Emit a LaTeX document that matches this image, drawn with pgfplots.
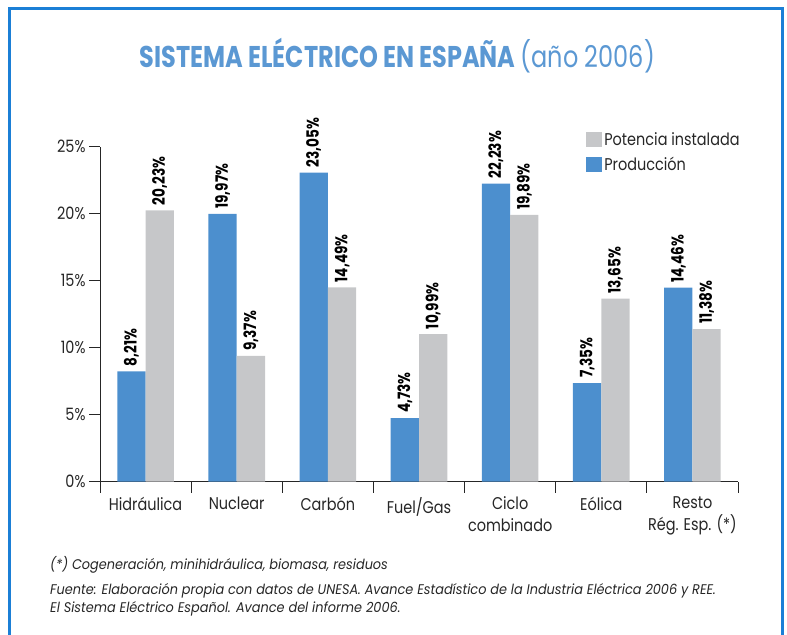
\documentclass[border=0pt]{standalone}
\usepackage{fontspec}
\usepackage{pgfplots}
\pgfplotsset{compat=1.18}
\setmainfont{Poppins}[FakeStretch=0.85]
\newfontfamily\titlefont{Poppins}[FakeStretch=0.8]
\newfontfamily\valfont{Poppins}[FakeStretch=0.8]
\newfontfamily\notefont{Poppins}[FakeStretch=0.92]
\definecolor{framecol}{HTML}{1B7FD6}
\definecolor{barblue}{HTML}{4C8FCE}
\definecolor{bargray}{HTML}{C6C7C9}
\definecolor{titleblue}{HTML}{5B98D3}
\definecolor{textcol}{HTML}{262626}

\begin{document}
\begin{tikzpicture}
\useasboundingbox (0,0) rectangle (787bp,-635bp);
\draw[line width=3bp,framecol] (9.5bp,-640bp) -- (9.5bp,-8bp) -- (782bp,-8bp) -- (782bp,-640bp);
\node[anchor=base,text=titleblue,inner sep=0pt] at (397.5bp,-67bp)
  {\fontsize{30bp}{34bp}\titlefont\bfseries SISTEMA ELÉCTRICO EN ESPAÑA \mdseries (año 2006)};

\begin{axis}[
  at={(100bp,-481.5bp)},anchor=south west,
  scale only axis,width=638bp,height=335bp,
  ybar=0pt,bar width=28.3bp,
  xmin=-0.5,xmax=6.5,ymin=0,ymax=25,
  axis x line*=bottom,axis y line*=left,
  axis line style={textcol,line width=0.9bp},
  every tick/.style={textcol,line width=0.9bp},
  xtick={0,...,6},
  xticklabels={Hidráulica,Nuclear,Carbón,Fuel/Gas,Ciclo\\combinado,Eólica,Resto\\Rég. Esp. (*)},
  minor xtick={-0.5,0.5,...,6.5},
  ytick={0,5,...,25},
  tick align=outside,major tick length=11bp,minor tick length=11bp,
  major x tick style={draw=none},
  /pgf/number format/assume math mode=true,
  yticklabel={\pgfmathprintnumber{\tick}\%},
  ticklabel style={font=\fontsize{17bp}{22bp}\selectfont,text=textcol},
  xticklabel style={align=center,yshift=-1bp},
  clip=false,
  nodes near coords={\pgfmathprintnumber[fixed,fixed zerofill,precision=2,use comma]{\pgfplotspointmeta}\%},
  every node near coord/.append style={rotate=90,anchor=west,inner xsep=5bp,inner ysep=0pt,
    font=\fontsize{17bp}{20bp}\valfont\bfseries,text=black},
  legend style={at={(0.762,1.048)},anchor=north west,draw=none,fill=none,inner sep=0pt,
    font=\fontsize{17bp}{20bp}\selectfont,text=textcol,row sep=6bp},
  legend cell align=left,
  reverse legend,
  legend image code/.code={\fill[#1] (0bp,-7.5bp) rectangle (16bp,7.5bp);},
]
\addplot[fill=barblue,draw=none] coordinates {(0,8.21) (1,19.97) (2,23.05) (3,4.73) (4,22.23) (5,7.35) (6,14.46)};
\addplot[fill=bargray,draw=none] coordinates {(0,20.23) (1,9.37) (2,14.49) (3,10.99) (4,19.89) (5,13.65) (6,11.38)};
\legend{Producción,Potencia instalada}
\end{axis}

\begin{scope}[every node/.style={anchor=base west,inner sep=0pt,text=textcol,font=\fontsize{14bp}{16bp}\notefont\itshape}]
\node at (50bp,-569.5bp) {(*) Cogeneración, minihidráulica, biomasa, residuos};
\node at (50bp,-594bp) {Fuente: Elaboración propia con datos de UNESA. Avance Estadístico de la Industria Eléctrica 2006 y REE.};
\node at (50bp,-612bp) {El Sistema Eléctrico Español. Avance del informe 2006.};
\end{scope}
\end{tikzpicture}
\end{document}
